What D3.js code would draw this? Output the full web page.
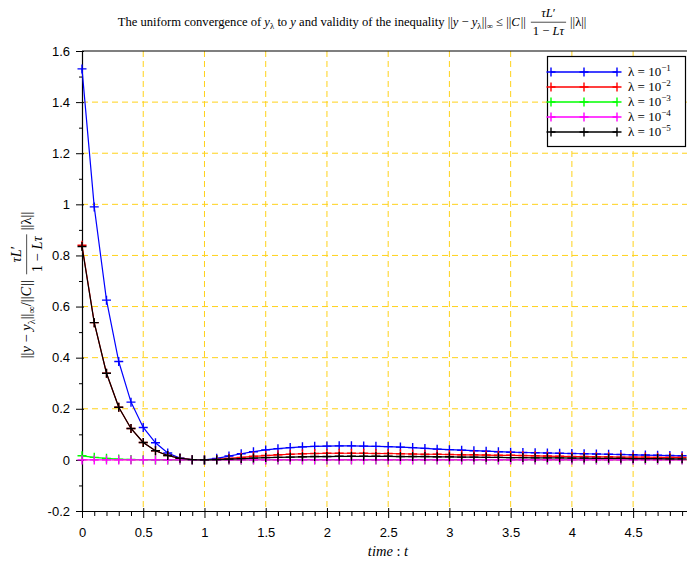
<!DOCTYPE html>
<html>
<head>
<meta charset="utf-8">
<script src="https://cdn.jsdelivr.net/npm/d3@7"></script>
<style>
  body { margin: 0; background: #fff; }
  svg { display: block; }
  .tick text { font-family: "Liberation Sans", Arial, sans-serif; font-size: 13px; fill: #000; }
  .math { font-family: "Liberation Serif", "DejaVu Serif", serif; fill: #000; }
</style>
</head>
<body>
<div id="chart"></div>
<script>
// time steps (x) and the five curves
const time = [0, 0.1, 0.2, 0.3, 0.4, 0.5, 0.6, 0.7, 0.8, 0.9,
  1, 1.1, 1.2, 1.3, 1.4, 1.5, 1.6, 1.7, 1.8, 1.9,
  2, 2.1, 2.2, 2.3, 2.4, 2.5, 2.6, 2.7, 2.8, 2.9,
  3, 3.1, 3.2, 3.3, 3.4, 3.5, 3.6, 3.7, 3.8, 3.9,
  4, 4.1, 4.2, 4.3, 4.4, 4.5, 4.6, 4.7, 4.8, 4.9];

const lambda1 = [1.53, 0.99, 0.625, 0.385, 0.226, 0.127, 0.067, 0.027, 0.007, 0.001,
  0, 0.006, 0.015, 0.024, 0.032, 0.039, 0.044, 0.048, 0.051, 0.053,
  0.054, 0.055, 0.055, 0.054, 0.053, 0.052, 0.050, 0.048, 0.045, 0.042,
  0.040, 0.038, 0.036, 0.034, 0.032, 0.030, 0.029, 0.028, 0.027, 0.026,
  0.025, 0.024, 0.023, 0.022, 0.021, 0.020, 0.019, 0.018, 0.017, 0.016];

const lambda2 = [0.84, 0.537, 0.339, 0.206, 0.123, 0.068, 0.036, 0.017, 0.006, 0.001,
  0, 0.002, 0.006, 0.010, 0.014, 0.017, 0.020, 0.022, 0.024, 0.025,
  0.026, 0.026, 0.026, 0.026, 0.025, 0.025, 0.024, 0.023, 0.022, 0.022,
  0.021, 0.020, 0.020, 0.019, 0.018, 0.018, 0.017, 0.016, 0.015, 0.014,
  0.013, 0.013, 0.012, 0.012, 0.011, 0.011, 0.011, 0.010, 0.010, 0.010];

const lambda3 = [0.016, 0.010, 0.006, 0.003, 0.0015, 0.001, 0, 0, 0, 0,
  0, 0, 0, 0, 0.001, 0.001, 0.001, 0.001, 0.001, 0.001,
  0.001, 0.001, 0.001, 0.001, 0.001, 0.001, 0.001, 0.001, 0.001, 0.001,
  0.001, 0.001, 0.001, 0.001, 0.001, 0.001, 0.001, 0.001, 0.001, 0.001,
  0.001, 0.001, 0.001, 0.001, 0.001, 0.001, 0.001, 0.001, 0.001, 0.001];

const lambda4 = [0, 0, 0, 0, 0, 0, 0, 0, 0, 0,
  0, 0, 0, 0, 0, 0, 0, 0, 0, 0,
  0, 0, 0, 0, 0, 0, 0, 0, 0, 0,
  0, 0, 0, 0, 0, 0, 0, 0, 0, 0,
  0, 0, 0, 0, 0, 0, 0, 0, 0, 0];

const lambda5 = [0.835, 0.537, 0.339, 0.206, 0.123, 0.068, 0.036, 0.017, 0.006, 0.001,
  0, 0.001, 0.003, 0.005, 0.007, 0.009, 0.010, 0.011, 0.012, 0.013,
  0.013, 0.014, 0.014, 0.014, 0.014, 0.014, 0.013, 0.013, 0.013, 0.012,
  0.012, 0.011, 0.011, 0.010, 0.010, 0.009, 0.009, 0.008, 0.008, 0.008,
  0.007, 0.007, 0.006, 0.006, 0.006, 0.005, 0.005, 0.005, 0.004, 0.004];

const seriesExponents = ["1", "2", "3", "4", "5"];
const seriesColors = ["#0000ff", "#ff0000", "#00ff00", "#ff00ff", "#000000"];
const seriesValues = [lambda1, lambda2, lambda3, lambda4, lambda5];

const xMajorTicks = [0, 0.5, 1, 1.5, 2, 2.5, 3, 3.5, 4, 4.5];
const xMinorTicks = [0.1, 0.2, 0.3, 0.4, 0.6, 0.7, 0.8, 0.9, 1.1, 1.2, 1.3, 1.4,
  1.6, 1.7, 1.8, 1.9, 2.1, 2.2, 2.3, 2.4, 2.6, 2.7, 2.8, 2.9, 3.1, 3.2, 3.3, 3.4,
  3.6, 3.7, 3.8, 3.9, 4.1, 4.2, 4.3, 4.4, 4.6, 4.7, 4.8, 4.9];
const yMajorTicks = [-0.2, 0, 0.2, 0.4, 0.6, 0.8, 1, 1.2, 1.4, 1.6];
const yMinorTicks = [-0.1, 0.1, 0.3, 0.5, 0.7, 0.9, 1.1, 1.3, 1.5];

// set the dimensions and margins of the graph
const W = 687, H = 564;
const margin = { top: 51, right: 0, bottom: 53, left: 82 };

const svg = d3.select("#chart").append("svg")
  .attr("width", W).attr("height", H);

const x = d3.scaleLinear().domain([0, 4.94]).range([margin.left, W]);
const y = d3.scaleLinear().domain([-0.2, 1.6]).range([H - margin.bottom, margin.top]);

// dashed grid
const grid = svg.append("g").attr("stroke", "#ffd21a").attr("stroke-width", 1).attr("stroke-dasharray", "6,4");
grid.selectAll(".gx").data(xMajorTicks.filter(d => d > 0)).enter().append("line")
  .attr("x1", d => x(d)).attr("x2", d => x(d))
  .attr("y1", y(1.6)).attr("y2", y(-0.2));
grid.selectAll(".gy").data(yMajorTicks.filter(d => d > -0.2 && d < 1.6)).enter().append("line")
  .attr("x1", x(0)).attr("x2", W)
  .attr("y1", d => y(d)).attr("y2", d => y(d));

// top frame line
svg.append("line").attr("x1", x(0)).attr("x2", W).attr("y1", y(1.6)).attr("y2", y(1.6))
  .attr("stroke", "#000").attr("stroke-width", 1.2);

// axes
const fmt = d => String(+d.toFixed(1));
const xAxis = svg.append("g").attr("transform", "translate(0," + y(-0.2) + ")")
  .call(d3.axisBottom(x).tickValues(xMajorTicks).tickSize(7).tickSizeOuter(0).tickPadding(10).tickFormat(fmt));
xAxis.selectAll(".tick line").attr("y1", -3);
svg.append("g").attr("transform", "translate(0," + y(-0.2) + ")")
  .call(d3.axisBottom(x).tickValues(xMinorTicks).tickSize(5).tickSizeOuter(0).tickFormat(""))
  .select(".domain").remove();
const yAxis = svg.append("g").attr("transform", "translate(" + x(0) + ",0)")
  .call(d3.axisLeft(y).tickValues(yMajorTicks).tickSize(6).tickSizeOuter(0).tickPadding(6).tickFormat(fmt));
yAxis.selectAll(".tick line").attr("x1", 2);
svg.append("g").attr("transform", "translate(" + x(0) + ",0)")
  .call(d3.axisLeft(y).tickValues(yMinorTicks).tickSize(3).tickSizeOuter(0).tickFormat(""))
  .select(".domain").remove();
svg.selectAll(".domain").attr("stroke", "#000").attr("stroke-width", 1.2);
svg.selectAll(".tick line").attr("stroke", "#000");
svg.selectAll(".tick text").attr("font-family", null).attr("font-size", null);

// curves
svg.append("clipPath").attr("id", "clip").append("rect")
  .attr("x", x(0) - 6).attr("y", y(1.6)).attr("width", W - x(0) + 6).attr("height", y(-0.2) - y(1.6));
const plot = svg.append("g").attr("clip-path", "url(#clip)");
const line = d3.line().x((d, i) => x(time[i])).y(d => y(d));
const arm = 4.5;

seriesValues.forEach((vals, k) => {
  const g = plot.append("g");
  g.append("path").datum(vals).attr("d", line)
    .attr("fill", "none").attr("stroke", seriesColors[k]).attr("stroke-width", 1.2);
  g.selectAll("path.m").data(vals).enter().append("path").attr("class", "m")
    .attr("d", (d, i) => {
      const px = x(time[i]), py = y(d);
      return `M${px - arm},${py}H${px + arm}M${px},${py - arm}V${py + arm}`;
    })
    .attr("stroke", seriesColors[k]).attr("stroke-width", 1.4);
});

// small math typesetting helper: places pieces one after the other
function layout(g, parts, x0, y0, fs) {
  let cx = x0;
  parts.forEach(p => {
    if (p.frac) {
      const gn = g.append("g"), gd = g.append("g");
      const wn = layout(gn, p.frac[0], 0, 0, fs);
      const wd = layout(gd, p.frac[1], 0, 0, fs);
      const w = Math.max(wn, wd) + 4;
      gn.attr("transform", `translate(${cx + 2 + (w - wn) / 2},${y0 - fs * 0.72})`);
      gd.attr("transform", `translate(${cx + 2 + (w - wd) / 2},${y0 + fs * 0.75})`);
      g.append("line").attr("x1", cx + 2).attr("x2", cx + 2 + w)
        .attr("y1", y0 - fs * 0.3).attr("y2", y0 - fs * 0.3)
        .attr("stroke", "#000").attr("stroke-width", 0.7);
      cx += w + 6;
    } else {
      const t = g.append("text").attr("class", "math")
        .attr("x", cx).attr("y", y0 + (p.dy || 0) * fs)
        .attr("font-size", fs * (p.sc || 1))
        .attr("font-style", p.it ? "italic" : "normal")
        .style("white-space", "pre")
        .text(p.t);
      cx += t.node().getComputedTextLength() + (p.sp || 0);
    }
  });
  return cx - x0;
}

const bar = { t: "||" };
const normDiff = [
  bar, { t: "y", it: true }, { t: " \u2212 " }, { t: "y", it: true },
  { t: "\u03bb", sc: 0.7, dy: 0.25 }, bar, { t: "\u221e", sc: 0.7, dy: 0.25 }
];
const bound = [
  bar, { t: "C", it: true, sp: 1 }, bar, { t: " " },
  { frac: [[{ t: "\u03c4", it: true }, { t: "L", it: true }, { t: "\u2032" }],
            [{ t: "1 \u2212 " }, { t: "L", it: true }, { t: "\u03c4", it: true }]] },
  bar, { t: "\u03bb" }, bar
];

// title
const titleParts = [
  { t: "The uniform convergence of " }, { t: "y", it: true }, { t: "\u03bb", sc: 0.7, dy: 0.25 },
  { t: " to " }, { t: "y", it: true }, { t: " and validity of the inequality " }
].concat(normDiff, [{ t: " \u2264 " }], bound);
const title = svg.append("g");
const tw = layout(title, titleParts, 0, 0, 12.6);
title.attr("transform", `translate(${352 - tw / 2},26)`);

// y label (rotated)
const ylab = svg.append("g");
const yw = layout(ylab, normDiff.concat([{ t: "/" }], bound), 0, 0, 14.5);
ylab.attr("transform", `translate(31,${285 + yw / 2}) rotate(-90)`);

// x label
const xlab = svg.append("g");
const xw = layout(xlab, [{ t: "time", it: true }, { t: " : " }, { t: "t", it: true }], 0, 0, 14.5);
xlab.attr("transform", `translate(${388 - xw / 2},556)`);

// legend
const legend = svg.append("g");
legend.append("rect").attr("x", 547.5).attr("y", 56.5).attr("width", 138).attr("height", 90)
  .attr("fill", "#fff").attr("stroke", "#000").attr("stroke-width", 1.2);
seriesColors.forEach((c, k) => {
  const ly = 72 + k * 15;
  legend.append("line").attr("x1", 551).attr("x2", 617).attr("y1", ly).attr("y2", ly)
    .attr("stroke", c).attr("stroke-width", 1.4);
  [551, 584, 617].forEach(px => {
    legend.append("path").attr("d", `M${px - arm},${ly}H${px + arm}M${px},${ly - arm}V${ly + arm}`)
      .attr("stroke", c).attr("stroke-width", 1.4);
  });
  const lg = legend.append("g");
  layout(lg, [{ t: "\u03bb = 10" }, { t: "\u2212" + seriesExponents[k], sc: 0.7, dy: -0.4 }], 0, 0, 13);
  lg.attr("transform", `translate(628,${ly + 4})`);
});
</script>
</body>
</html>
